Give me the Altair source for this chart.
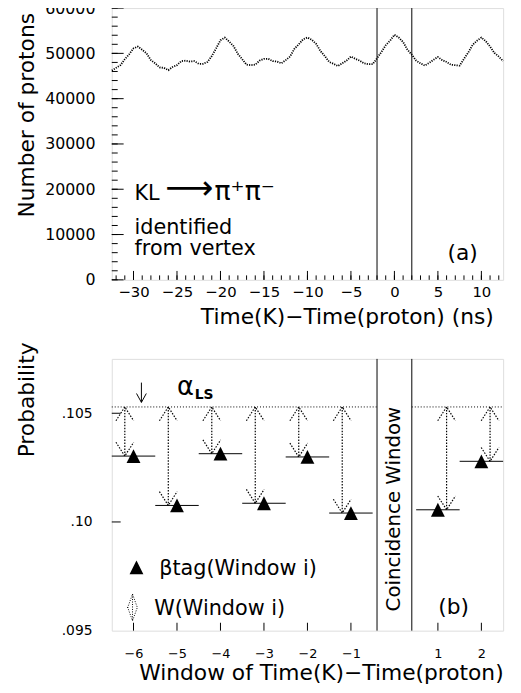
import altair as alt
import pandas as pd

FONT = "DejaVu Sans"

# ---------------- panel (a) data ----------------
time_ns = [-32.5, -32.0, -31.5, -31.0, -30.5, -30.0, -29.5, -29.0, -28.5, -28.0,
           -27.5, -27.0, -26.5, -26.0, -25.5, -25.0, -24.5, -24.0, -23.5, -23.0,
           -22.5, -22.0, -21.5, -21.0, -20.5, -20.0, -19.5, -19.0, -18.5, -18.0,
           -17.5, -17.0, -16.5, -16.0, -15.5, -15.0, -14.5, -14.0, -13.5, -13.0,
           -12.5, -12.0, -11.5, -11.0, -10.5, -10.0, -9.5, -9.0, -8.5, -8.0,
           -7.5, -7.0, -6.5, -6.0, -5.5, -5.0, -4.5, -4.0, -3.5, -3.0,
           -2.5, -2.0, -1.5, -1.0, -0.5, 0.0, 0.5, 1.0, 1.5, 2.0,
           2.5, 3.0, 3.5, 4.0, 4.5, 5.0, 5.5, 6.0, 6.5, 7.0,
           7.5, 8.0, 8.5, 9.0, 9.5, 10.0, 10.5, 11.0, 11.5, 12.0, 12.5]
protons = [46200, 46800, 47400, 48700, 49800, 51100, 51500, 50800, 50000, 48500,
           47800, 46900, 46800, 46300, 47000, 47400, 48300, 48400, 48200, 48300,
           47700, 47700, 48100, 49400, 51100, 52900, 53500, 52600, 51600, 49900,
           48700, 47500, 47400, 47500, 48400, 48800, 48800, 48300, 48200, 47800,
           48500, 49300, 51000, 52000, 53100, 53500, 53000, 52100, 50500, 49400,
           48100, 47700, 47200, 47800, 48400, 49300, 48800, 48400, 47800, 47600,
           47600, 48900, 50300, 51800, 52800, 54100, 53500, 52500, 50800, 49700,
           48400, 47800, 47300, 47900, 48600, 49200, 48500, 48100, 47500, 47400,
           47300, 48800, 50200, 51900, 52800, 53500, 52700, 51500, 50100, 49300, 48300]
cut_ns = [-2, 2]
x_major_a = [-30, -25, -20, -15, -10, -5, 0, 5, 10]
x_minor_a = list(range(-32, 13))
y_major_a = [0, 10000, 20000, 30000, 40000, 50000, 60000]
y_minor_a = list(range(0, 60001, 2000))

# ---------------- panel (b) data ----------------
windows = [-6, -5, -4, -3, -2, -1, 1, 2]
beta_tag = [0.10303, 0.10076, 0.10314, 0.10086, 0.10299, 0.10041, 0.10056, 0.10279]
alpha_ls = 0.10529
arrow_side = [-0.2, -0.2, -0.2, -0.2, -0.2, -0.2, 0.2, 0.2]
coinc_edges = [-0.4, 0.4]
alpha_from = [-6.5, 0.4]
alpha_to = [-0.4, 2.5]
y_ticks_b = [0.095, 0.10, 0.105]
y_tick_labels_b = [".095", ".10", ".105"]

W, H = 396, 275

UP = "M -0.64 1 L 0 0 L 0.64 1"
DOWN = "M -0.64 -1 L 0 0 L 0.64 -1"
UP_S = "M -0.36 1 L 0 0 L 0.36 1"
DOWN_S = "M -0.36 -1 L 0 0 L 0.36 -1"
TRI = "M 0 -1 L 1 1 L -1 1 Z"
DOT = [1.5, 1.5]


def txt(s, x, y, size=21, align="left", baseline="alphabetic", angle=0, weight="normal"):
    return alt.Chart(pd.DataFrame({"s": [s]})).mark_text(
        font=FONT, fontSize=size, align=align, baseline=baseline, angle=angle,
        fontWeight=weight, color="black"
    ).encode(text="s:N", x=alt.value(x), y=alt.value(y))


# ================= panel (a) =================
xs_a = alt.Scale(domain=[-32.5, 12.5], nice=False, zero=False)
ys_a = alt.Scale(domain=[0, 60000], nice=False, zero=False)

ax_x_a = alt.Axis(
    values=x_major_a, format="d", tickSize=0, domain=False, grid=False,
    labelPadding=5, labelFontSize=15, labelFont=FONT, labelColor="black",
    title="Time(K)−Time(proton) (ns)", titleFont=FONT, titleFontSize=22,
    titleFontWeight="normal", titleColor="black", titleX=386, titleY=44,
    titleAlign="right", titleBaseline="alphabetic")
ax_y_a = alt.Axis(
    values=y_major_a, format="d", tickSize=0, domain=False, grid=False,
    labelPadding=17, labelFontSize=16, labelFont=FONT, labelColor="black",
    title="Number of protons", titleFont=FONT, titleFontSize=22,
    titleFontWeight="normal", titleColor="black", titleX=-79, titleY=108,
    titleAlign="center", titleBaseline="alphabetic", titleAngle=270)

hist = pd.DataFrame({"t": time_ns, "n": protons})
line_a = alt.Chart(hist).mark_line(color="black", strokeWidth=1.8, strokeDash=[1.2, 1.2]).encode(
    x=alt.X("t:Q", scale=xs_a, axis=ax_x_a),
    y=alt.Y("n:Q", scale=ys_a, axis=ax_y_a),
)

cuts_a = alt.Chart(pd.DataFrame({"t": cut_ns})).mark_rule(color="black", strokeWidth=1).encode(
    x=alt.X("t:Q", scale=xs_a, axis=ax_x_a))

xminor = alt.Chart(pd.DataFrame({"t": x_minor_a})).mark_rule(color="black").encode(
    x=alt.X("t:Q", scale=xs_a, axis=ax_x_a), y=alt.value(H), y2=alt.value(H - 4.5))
xmajor = alt.Chart(pd.DataFrame({"t": x_major_a})).mark_rule(color="black").encode(
    x=alt.X("t:Q", scale=xs_a, axis=ax_x_a), y=alt.value(H), y2=alt.value(H - 9))
yminor = alt.Chart(pd.DataFrame({"n": y_minor_a})).mark_rule(color="black").encode(
    y=alt.Y("n:Q", scale=ys_a, axis=ax_y_a), x=alt.value(0), x2=alt.value(6))
ymajor = alt.Chart(pd.DataFrame({"n": y_major_a})).mark_rule(color="black").encode(
    y=alt.Y("n:Q", scale=ys_a, axis=ax_y_a), x=alt.value(0), x2=alt.value(12))

top = alt.layer(
    line_a, cuts_a, xminor, xmajor, yminor, ymajor,
    txt("KL", 23, 194, size=21),
    txt("⟶", 54, 193, size=34),
    txt("π⁺π⁻", 104, 194, size=27),
    txt("identified", 23, 229, size=21),
    txt("from vertex", 23, 250, size=21),
    txt("(a)", 355, 248, size=22, align="center", baseline="middle"),
).properties(width=W, height=H)

# ================= panel (b) =================
xs_b = alt.Scale(domain=[-6.5, 2.5], nice=False, zero=False)
ys_b = alt.Scale(domain=[0.095, 0.1075], nice=False, zero=False)

pts = pd.DataFrame({"w": windows, "b": beta_tag, "side": arrow_side})
pts["lo"] = pts["w"] - 0.5
pts["hi"] = pts["w"] + 0.5
pts["ax"] = pts["w"] + pts["side"]
pts["a"] = alpha_ls

label_expr = " : ".join(
    f"abs(datum.value - {v}) < 0.0001 ? '{l}'" for v, l in zip(y_ticks_b, y_tick_labels_b)
) + " : ''"

ax_x_b = alt.Axis(
    values=windows, format="d", tickSize=0, domain=False, grid=False,
    labelPadding=17, labelFontSize=13, labelFont=FONT, labelColor="black",
    title="Window of Time(K)−Time(proton)", titleFont=FONT, titleFontSize=22,
    titleFontWeight="normal", titleColor="black", titleX=W, titleY=49,
    titleAlign="right", titleBaseline="alphabetic")
ax_y_b = alt.Axis(
    values=y_ticks_b, labelExpr=label_expr, tickSize=0, domain=False, grid=False,
    labelPadding=20, labelFontSize=14, labelFont=FONT, labelColor="black",
    title="Probability", titleFont=FONT, titleFontSize=22,
    titleFontWeight="normal", titleColor="black", titleX=-79, titleY=41,
    titleAlign="center", titleBaseline="alphabetic", titleAngle=270)

XB = lambda f: alt.X(f, scale=xs_b, axis=ax_x_b)
YB = lambda f: alt.Y(f, scale=ys_b, axis=ax_y_b)

dash_b = alt.Chart(pts).mark_rule(color="black", strokeWidth=1).encode(
    x=XB("lo:Q"), x2="hi:Q", y=YB("b:Q"))

alpha_df = pd.DataFrame({"lo": alpha_from, "hi": alpha_to, "b": [alpha_ls, alpha_ls]})
alpha_line = alt.Chart(alpha_df).mark_rule(color="black", strokeWidth=1, strokeDash=[1, 2]).encode(
    x=XB("lo:Q"), x2="hi:Q", y=YB("b:Q"))

coinc = alt.Chart(pd.DataFrame({"lo": coinc_edges})).mark_rule(color="black", strokeWidth=1).encode(
    x=XB("lo:Q"))

shaft = alt.Chart(pts).mark_rule(color="black", strokeWidth=1.2, strokeDash=DOT).encode(
    x=XB("ax:Q"), y=YB("a:Q"), y2="b:Q")
head_up = alt.Chart(pts).mark_point(shape=UP, size=784, filled=False, color="black",
                                    strokeWidth=1.2, strokeDash=DOT, opacity=1).encode(
    x=XB("ax:Q"), y=YB("a:Q"))
head_dn = alt.Chart(pts).mark_point(shape=DOWN, size=784, filled=False, color="black",
                                    strokeWidth=1.2, strokeDash=DOT, opacity=1).encode(
    x=XB("ax:Q"), y=YB("b:Q"))
tri = alt.Chart(pts).mark_point(shape=TRI, size=196, filled=True, color="black", opacity=1).encode(
    x=XB("w:Q"), y=YB("b:Q"))

xt_b = alt.Chart(pd.DataFrame({"w": windows})).mark_rule(color="black").encode(
    x=XB("w:Q"), y=alt.value(H), y2=alt.value(H - 8))
yt_b = alt.Chart(pd.DataFrame({"b": y_ticks_b[1:]})).mark_rule(color="black").encode(
    y=YB("b:Q"), x=alt.value(0), x2=alt.value(9))

one = pd.DataFrame({"k": [0]})
lbl_arrow = alt.Chart(one).mark_rule(color="black", strokeWidth=1).encode(
    x=alt.value(30), y=alt.value(24), y2=alt.value(44))
lbl_head = alt.Chart(one).mark_point(shape="M -0.55 -1 L 0 0 L 0.55 -1", size=324, filled=False,
                                     color="black", strokeWidth=1, opacity=1).encode(
    x=alt.value(30), y=alt.value(44))
leg_tri = alt.Chart(one).mark_point(shape=TRI, size=196, filled=True, color="black", opacity=1).encode(
    x=alt.value(25), y=alt.value(211))
leg_shaft = alt.Chart(one).mark_rule(color="black", strokeWidth=1, strokeDash=[1, 1.5]).encode(
    x=alt.value(21), y=alt.value(238), y2=alt.value(265))
leg_up = alt.Chart(one).mark_point(shape=UP_S, size=784, filled=False, color="black",
                                   strokeWidth=1, strokeDash=[1, 1.5], opacity=1).encode(
    x=alt.value(21), y=alt.value(238))
leg_dn = alt.Chart(one).mark_point(shape=DOWN_S, size=784, filled=False, color="black",
                                   strokeWidth=1, strokeDash=[1, 1.5], opacity=1).encode(
    x=alt.value(21), y=alt.value(265))

bottom = alt.layer(
    dash_b, alpha_line, coinc, shaft, head_up, head_dn, tri, xt_b, yt_b,
    lbl_arrow, lbl_head, leg_tri, leg_shaft, leg_up, leg_dn,
    txt("α", 66, 37, size=26),
    txt("LS", 84, 41, size=14, weight="bold"),
    txt("βtag(Window i)", 48, 219, size=21),
    txt("W(Window i)", 43, 259, size=21),
    txt("Coincidence Window", 286, 152, size=20, align="center", baseline="middle", angle=270),
    txt("(b)", 346, 251, size=22, align="center", baseline="middle"),
).properties(width=W, height=H)

chart = alt.vconcat(top, bottom, spacing=80, bounds="flush").properties(
    padding={"left": 7, "top": -13, "right": 5, "bottom": 5}
).configure_view(stroke="black", strokeWidth=1).configure(background="white")

chart.save("out.html", embed_options={"renderer": "svg", "actions": False})
